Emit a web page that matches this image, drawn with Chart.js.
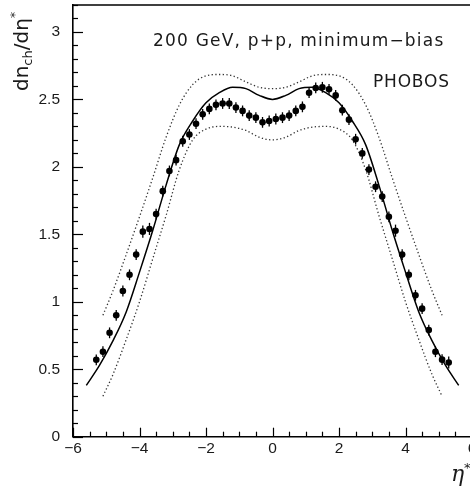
<!DOCTYPE html>
<html><head><meta charset="utf-8">
<script src="https://cdn.jsdelivr.net/npm/chart.js@4"></script>
<style>
html,body{margin:0;padding:0;overflow:hidden;background:#fff;width:470px;height:489px}
#wrap{position:absolute;left:0;top:0;width:490px;height:489px}
</style>
</head><body><div id="wrap"><canvas id="c" width="490" height="489"></canvas></div>
<script>
// measured PHOBOS p+p points
const etaPoints = [-5.3,-5.1,-4.9,-4.7,-4.5,-4.3,-4.1,-3.9,-3.7,-3.5,-3.3,-3.1,-2.9,-2.7,-2.5,-2.3,-2.1,-1.9,-1.7,-1.5,-1.3,-1.1,-0.9,-0.7,-0.5,-0.3,-0.1,
  0.1,0.3,0.5,0.7,0.9,1.1,1.3,1.5,1.7,1.9,2.1,2.3,2.5,2.7,2.9,3.1,3.3,3.5,3.7,3.9,4.1,4.3,4.5,4.7,4.9,5.1,5.3];
const dndetaPoints = [0.57,0.63,0.77,0.90,1.08,1.20,1.35,1.52,1.54,1.65,1.82,1.97,2.05,2.19,2.24,2.32,2.39,2.43,2.46,2.47,2.47,2.44,2.415,2.38,2.365,2.33,2.34,
  2.355,2.365,2.38,2.415,2.445,2.55,2.585,2.59,2.575,2.53,2.42,2.35,2.205,2.10,1.98,1.853,1.78,1.63,1.527,1.35,1.20,1.048,0.949,0.79,0.63,0.571,0.55];
const errPoints = [0.04,0.04,0.04,0.04,0.04,0.04,0.04,0.045,0.045,0.04,0.04,0.04,0.04,0.04,0.04,0.04,0.04,0.04,0.04,0.04,0.04,0.04,0.04,0.04,0.04,0.04,0.04,
  0.04,0.04,0.04,0.04,0.04,0.04,0.04,0.04,0.04,0.04,0.04,0.04,0.04,0.04,0.04,0.04,0.04,0.04,0.045,0.04,0.04,0.04,0.04,0.04,0.04,0.04,0.045];
// model curve (solid)
const curveEta = [-5.6,-5.2,-4.8,-4.4,-4.0,-3.6,-3.2,-2.8,-2.4,-2.0,-1.6,-1.2,-0.8,-0.4,0,0.4,0.8,1.2,1.6,2.0,2.4,2.8,3.2,3.6,4.0,4.4,4.8,5.2,5.6];
const curveSolid = [0.38,0.53,0.71,0.925,1.22,1.53,1.865,2.165,2.34,2.475,2.55,2.59,2.58,2.53,2.50,2.53,2.58,2.59,2.55,2.475,2.34,2.165,1.865,1.53,1.22,0.925,0.71,0.53,0.38];
// systematic band (dotted)
const bandEta = [-5.1,-4.8,-4.4,-4.0,-3.6,-3.2,-2.8,-2.4,-2.0,-1.6,-1.2,-0.8,-0.4,0,0.4,0.8,1.2,1.6,2.0,2.4,2.8,3.2,3.6,4.0,4.4,4.8,5.1];
const bandUpper = [0.90,1.08,1.35,1.63,1.92,2.22,2.46,2.61,2.675,2.685,2.675,2.63,2.59,2.58,2.59,2.63,2.675,2.685,2.675,2.61,2.46,2.22,1.92,1.63,1.35,1.08,0.90];
const bandLower = [0.30,0.46,0.72,1.00,1.32,1.64,1.98,2.20,2.28,2.30,2.295,2.27,2.22,2.20,2.22,2.27,2.295,2.30,2.28,2.20,1.98,1.64,1.32,1.00,0.72,0.46,0.30];
const xTickLabels = [-6,-4,-2,0,2,4,6];
const yTickLabels = [0,0.5,1,1.5,2,2.5,3];
const titleText = '200 GeV, p+p, minimum\u2212bias';
const expText = 'PHOBOS';

const pts = (xs, ys) => xs.map((x, i) => ({x, y: ys[i]}));
const fmt = v => (v < 0 ? '\u2212' + Math.abs(v) : String(v));

const errorBars = {
  id: 'errorBars',
  afterDatasetsDraw(chart) {
    const {ctx, scales: {x, y}} = chart;
    ctx.save();
    ctx.strokeStyle = '#000';
    ctx.lineWidth = 1.3;
    etaPoints.forEach((e, i) => {
      const px = x.getPixelForValue(e);
      ctx.beginPath();
      ctx.moveTo(px, y.getPixelForValue(dndetaPoints[i] - errPoints[i]));
      ctx.lineTo(px, y.getPixelForValue(dndetaPoints[i] + errPoints[i]));
      ctx.stroke();
    });
    ctx.restore();
  }
};

const frame = {
  id: 'frame',
  afterDraw(chart) {
    const {ctx, chartArea: a, scales: {x, y}} = chart;
    ctx.save();
    ctx.strokeStyle = '#000';
    ctx.lineWidth = 1.3;
    ctx.beginPath();
    ctx.moveTo(a.left, a.top); ctx.lineTo(a.right, a.top); ctx.lineTo(a.right, a.bottom);
    ctx.stroke();
    ctx.lineWidth = 1.2;
    // y ticks every 0.1, major every 0.5 (inside)
    for (let k = 0; k <= 32; k++) {
      const py = Math.round(y.getPixelForValue(k / 10)) + 0.5;
      const len = (k % 5 === 0) ? 10 : 5;
      ctx.beginPath(); ctx.moveTo(a.left, py); ctx.lineTo(a.left + len, py); ctx.stroke();
    }
    // x ticks every 0.5, major every 2 (inside)
    for (let k = -12; k <= 12; k++) {
      const px = Math.round(x.getPixelForValue(k / 2)) + 0.5;
      const len = (k % 4 === 0) ? 9 : 5;
      ctx.beginPath(); ctx.moveTo(px, a.bottom); ctx.lineTo(px, a.bottom - len); ctx.stroke();
    }
    // texts
    ctx.fillStyle = '#1a1a1a';
    ctx.textBaseline = 'alphabetic';
    ctx.textAlign = 'left';
    ctx.font = '17px "DejaVu Sans"';
    ctx.letterSpacing = '1.2px';
    ctx.fillText(titleText, 153, 46);
    ctx.letterSpacing = '0.8px';
    ctx.fillText(expText, 373, 87);
    ctx.letterSpacing = '0px';
    // y title rotated
    ctx.save();
    ctx.translate(28, 91);
    ctx.rotate(-Math.PI / 2);
    let cx = 0;
    const seg = (t, size, dy) => {
      ctx.font = size + 'px "DejaVu Sans"';
      ctx.fillText(t, cx, dy);
      cx += ctx.measureText(t).width;
    };
    seg('dn', 20, 0);
    seg('ch', 13, 4);
    seg('/d', 20, 0);
    seg('\u03b7', 20, 0);
    seg('*', 13, -9);
    ctx.restore();
    // x title
    ctx.font = 'italic 22px "DejaVu Serif"';
    ctx.fillText('\u03b7', 451, 481);
    ctx.font = '13px "DejaVu Sans"';
    ctx.fillText('*', 464, 472);
    ctx.restore();
  }
};

new Chart(document.getElementById('c'), {
  type: 'scatter',
  data: {
    datasets: [
      {label: 'data', data: pts(etaPoints, dndetaPoints), pointRadius: 3.3, pointHoverRadius: 3.3,
       backgroundColor: '#000', borderColor: '#000', borderWidth: 0, showLine: false},
      {label: 'model', data: pts(curveEta, curveSolid), showLine: true, pointRadius: 0,
       borderColor: '#000', borderWidth: 1.5, cubicInterpolationMode: 'monotone', fill: false},
      {label: 'upper', data: pts(bandEta, bandUpper), showLine: true, pointRadius: 0,
       borderColor: '#333', borderWidth: 1.3, borderDash: [1.3, 2.4], cubicInterpolationMode: 'monotone', fill: false},
      {label: 'lower', data: pts(bandEta, bandLower), showLine: true, pointRadius: 0,
       borderColor: '#333', borderWidth: 1.3, borderDash: [1.3, 2.4], cubicInterpolationMode: 'monotone', fill: false}
    ]
  },
  options: {
    responsive: false, animation: false, devicePixelRatio: 1,
    layout: {padding: {left: 0, right: 18, top: 5, bottom: 0}},
    plugins: {legend: {display: false}, tooltip: {enabled: false}},
    scales: {
      x: {
        type: 'linear', min: -6, max: 6,
        afterBuildTicks: s => { s.ticks = xTickLabels.map(v => ({value: v})); },
        grid: {display: false, drawTicks: false},
        border: {display: true, color: '#000', width: 1.6},
        ticks: {padding: 3, color: '#1a1a1a', font: {family: '"Liberation Sans"', size: 15.5}, maxRotation: 0, callback: v => fmt(v)},
        afterFit: s => { s.height = 52.3; s.paddingLeft = 0; s.paddingRight = 0; }
      },
      y: {
        type: 'linear', min: 0, max: 3.2,
        afterBuildTicks: s => { s.ticks = yTickLabels.map(v => ({value: v})); },
        grid: {display: false, drawTicks: false},
        border: {display: true, color: '#000', width: 1.6},
        ticks: {padding: 13, color: '#1a1a1a', font: {family: '"Liberation Sans"', size: 15.5}, callback: v => String(v)},
        afterFit: s => { s.width = 73; s.paddingTop = 0; s.paddingBottom = 0; }
      }
    }
  },
  plugins: [errorBars, frame]
});
</script></body></html>
